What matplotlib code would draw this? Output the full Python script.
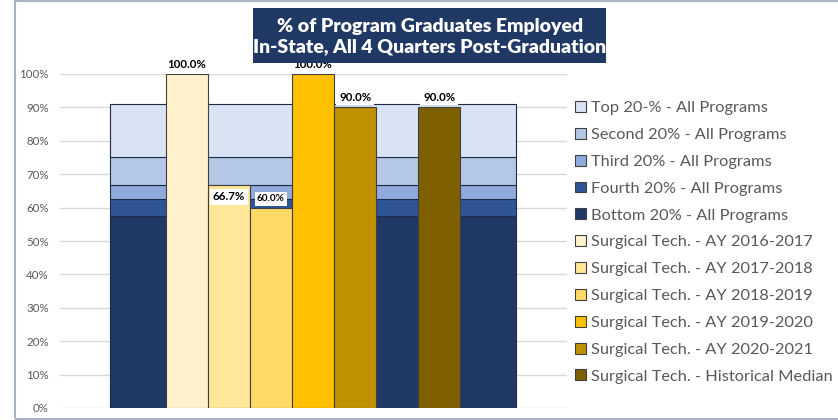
import numpy as np
import matplotlib.pyplot as plt
from matplotlib.patches import Patch, Rectangle

plt.rcParams['font.family'] = ['Lato', 'DejaVu Sans']

# background bands (quintiles, all programs), stacked segments in %
band_names = ['Bottom 20% - All Programs', 'Fourth 20% - All Programs', 'Third 20% - All Programs',
              'Second 20% - All Programs', 'Top 20-% - All Programs']
band_vals = [57.5, 5.1, 4.1, 8.4, 15.8]
band_colors = ['#203864', '#2F5597', '#8FAADC', '#B4C7E7', '#DAE3F3']

# program bars
prog_names = ['Surgical Tech. - AY 2016-2017', 'Surgical Tech. - AY 2017-2018', 'Surgical Tech. - AY 2018-2019',
              'Surgical Tech. - AY 2019-2020', 'Surgical Tech. - AY 2020-2021', 'Surgical Tech. - Historical Median']
prog_vals = [100.0, 66.7, 60.0, 100.0, 90.0, 90.0]
prog_colors = ['#FFF2CC', '#FFE699', '#FFD966', '#FFC000', '#BF9000', '#7F6000']
prog_slots = [0, 1, 2, 3, 4, 6]  # slot 5 is left empty

fig = plt.figure(figsize=(8.38, 4.2), dpi=100)
fig.patches.append(Rectangle((15/838, 1/420), 1.0, 418/420, transform=fig.transFigure,
                             fill=False, edgecolor='#A9B4C4', linewidth=1.5))

ax = fig.add_axes([60/838, 12/420, 507/838, 334/420])
ax.set_xlim(-6.01, 6.03)
ax.set_ylim(0, 100)
for s in ax.spines.values():
    s.set_visible(False)
ax.set_yticks(np.arange(0, 101, 10))
ax.set_yticklabels([f'{v}%' for v in range(0, 101, 10)])
ax.tick_params(axis='y', length=0, labelsize=8.3, labelcolor='#595959', pad=8)
ax.set_xticks([])
ax.grid(axis='y', color='#D9D9D9', linewidth=1)
ax.set_axisbelow(True)

bottom = 0
for v, c in zip(band_vals, band_colors):
    ax.bar(0, v, width=9.65, bottom=bottom, color=c, edgecolor='#1F2A44', linewidth=0.8, zorder=2)
    bottom += v

x = np.array(prog_slots) - 3
ax.bar(x, prog_vals, width=1.0, color=prog_colors, edgecolor='#404040', linewidth=0.8, zorder=3)

lbl_y = [102.7, 63.2, 62.6, 102.7, 93.1, 93.1]
lbl_size = [8.3, 8.3, 7.2, 8.3, 8.3, 8.3]
for xi, v, ly, fs in zip(x, prog_vals, lbl_y, lbl_size):
    ax.text(xi, ly, f'{v:.1f}%', ha='center', va='center', fontsize=fs, fontweight='bold',
            color='black', zorder=5, clip_on=False,
            bbox=dict(boxstyle='square,pad=0.25', facecolor='white', edgecolor='none'))

# title box
fig.patches.append(Rectangle((253/838, 1 - 63/420), 353/838, 55/420, transform=fig.transFigure,
                             facecolor='#203864', edgecolor='none', zorder=10))
fig.text(430/838, 1 - 36.5/420, '% of Program Graduates Employed\nIn-State, All 4 Quarters Post-Graduation',
         ha='center', va='center', color='white', fontsize=14, fontweight='heavy',
         linespacing=1.25, zorder=11)

handles = [Patch(facecolor=c, edgecolor='#404040', linewidth=0.8) for c in band_colors[::-1] + prog_colors]
labels = band_names[::-1] + prog_names
fig.legend(handles, labels, loc='upper left', bbox_to_anchor=(575/838, 1 - 101/420), frameon=False,
           fontsize=11.8, labelcolor='#595959', handlelength=0.65, handleheight=0.65,
           handletextpad=0.3, labelspacing=0.77, borderaxespad=0, borderpad=0)

fig.savefig('out.png', dpi=100)
